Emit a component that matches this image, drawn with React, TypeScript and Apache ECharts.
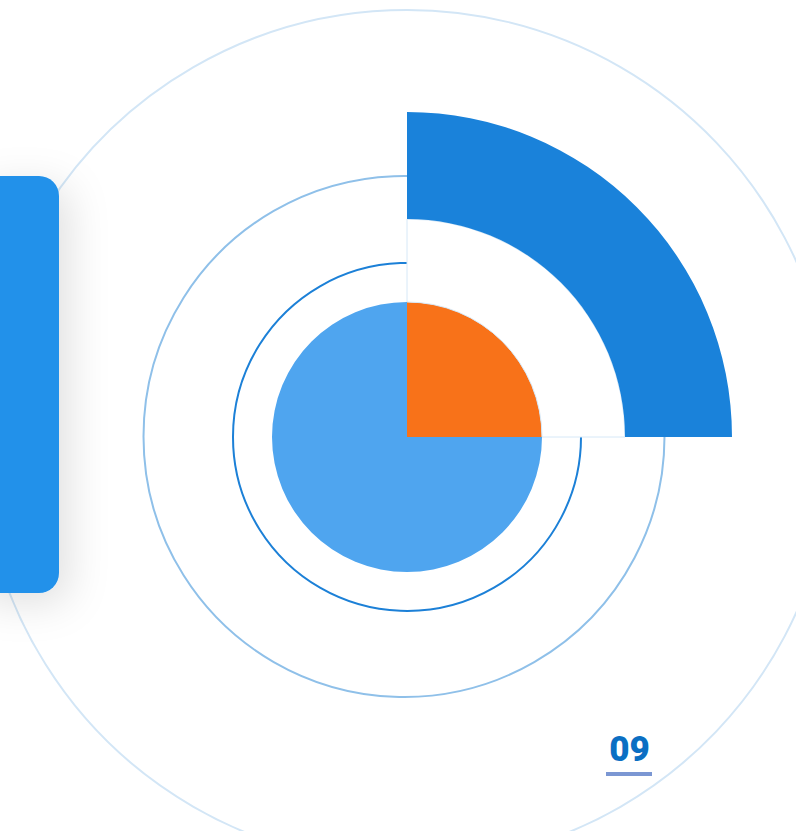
import React, { useEffect, useRef } from "react";
import * as echarts from "echarts";

const sliceNames = ["Highlighted", "Remainder"];
const coreValues = [25, 75];
const gapValues = [25, 75];
const outerValues = [25, 75];
const pageLabel = "09";

const CX = 407;
const CY = 437;

export default function App() {
  const ref = useRef<HTMLDivElement>(null);
  useEffect(() => {
    document.body.style.margin = "0";
    const chart = echarts.init(ref.current!, null, { renderer: "svg" });
    const common = {
      type: "pie" as const,
      center: [CX, CY],
      startAngle: 90,
      clockwise: true,
      silent: true,
      label: { show: false },
      labelLine: { show: false },
      emphasis: { disabled: true },
      z: 5,
    };
    chart.setOption({
      animation: false,
      backgroundColor: "#ffffff",
      graphic: [
        { type: "circle", z: 0, shape: { cx: CX, cy: CY, r: 427 }, style: { fill: "none", stroke: "#d3e6f6", lineWidth: 2 } },
        { type: "circle", z: 0, shape: { cx: 404, cy: 436.5, r: 260.5 }, style: { fill: "none", stroke: "#8fc0e9", lineWidth: 2 } },
        { type: "circle", z: 0, shape: { cx: CX, cy: CY, r: 174 }, style: { fill: "none", stroke: "#1c80d7", lineWidth: 2 } },
        {
          type: "rect",
          z: 10,
          shape: { x: -30, y: 176, width: 89, height: 417, r: 20 },
          style: { fill: "#2391ea", shadowBlur: 40, shadowColor: "rgba(0,0,0,0.12)", shadowOffsetX: 10, shadowOffsetY: 10 },
        },
        {
          type: "text",
          z: 10,
          x: 629.5,
          y: 749,
          style: {
            text: pageLabel,
            fill: "#0b6fc3",
            fontFamily: "Roboto",
            fontWeight: 900,
            fontSize: 35,
            align: "center",
            verticalAlign: "middle",
          },
        },
        { type: "rect", z: 10, shape: { x: 606, y: 772, width: 46, height: 4 }, style: { fill: "#7b97d3" } },
      ],
      series: [
        {
          ...common,
          radius: [0, 135],
          data: sliceNames.map((n, i) => ({
            name: n,
            value: coreValues[i],
            itemStyle: { color: i === 0 ? "#f87219" : "#4fa5ef" },
          })),
        },
        {
          ...common,
          radius: [135, 218],
          data: sliceNames.map((n, i) => ({
            name: n,
            value: gapValues[i],
            itemStyle:
              i === 0
                ? { color: "#ffffff", borderColor: "#d6e8f7", borderWidth: 1 }
                : { color: "transparent" },
          })),
        },
        {
          ...common,
          radius: [218, 325],
          data: sliceNames.map((n, i) => ({
            name: n,
            value: outerValues[i],
            itemStyle: { color: i === 0 ? "#1a82da" : "transparent" },
          })),
        },
      ],
    });
    return () => chart.dispose();
  }, []);
  return <div ref={ref} style={{ position: "absolute", left: 0, top: 0, width: 796, height: 831 }} />;
}
